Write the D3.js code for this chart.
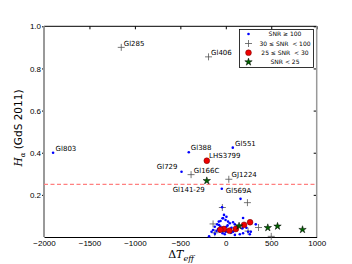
<!DOCTYPE html>
<html>
<head>
<meta charset="utf-8">
<script src="https://cdn.jsdelivr.net/npm/d3@7"></script>
<style>
  body { margin: 0; background: #fff; }
  svg { display: block; font-family: "DejaVu Sans", sans-serif; }
</style>
</head>
<body>
<div id="chart"></div>
<script>
// Halpha vs Delta Teff

// SNR >= 100 (blue dots)
var blueX = [-1900, -407, 77, -487, -44, 162, -41, 190, 330, 275,
  -30, -3, -58, 25, 44, 80, 99, -74, -121, -85, -140, -102, -47, -11, 7,
  63, 118, -157, -66, -36, 0, 36, 80, 124, 183, 227, 245, 264, 154, 190,
  -11, -184, -77, -36, 7, -20, -95, -60, 20, 60, -120, 100];
var blueY = [0.40, 0.402, 0.424, 0.31, 0.229, 0.181, 0.141, 0.09, 0.06, 0.025,
  0.089, 0.081, 0.076, 0.073, 0.065, 0.070, 0.060, 0.057, 0.049, 0.038, 0.033, 0.029, 0.041, 0.044, 0.049,
  0.044, 0.049, 0.025, 0.025, 0.018, 0.025, 0.029, 0.025, 0.033, 0.041, 0.044, 0.025, 0.013, 0.013, 0.018,
  0.013, 0.003, 0.073, 0.089, 0.096, 0.105, 0.060, 0.050, 0.055, 0.020, 0.015, 0.010];

// 30 <= SNR < 100 (plus)
var plusX = [-1150, -190, -382, 33, 238, -38, 360, 245, -140, -121, 500, -20, 50];
var plusY = [0.90, 0.855, 0.296, 0.274, 0.163, 0.140, 0.045, 0.028, 0.062, 0.020, 0.003, 0.035, 0.030];

// 25 <= SNR < 30 (red circles)
var redX = [-209, 267, 201, 110, -22, -60, 40];
var redY = [0.362, 0.070, 0.058, 0.038, 0.038, 0.035, 0.030];

// SNR < 25 (green stars)
var starX = [-209, 146, 462, 569, 844];
var starY = [0.267, 0.052, 0.044, 0.051, 0.035];

// star names
var labelNames = ["Gl285", "Gl406", "Gl803", "Gl388", "Gl551", "LHS3799", "Gl729", "Gl166C", "Gl141-29", "GJ1224", "Gl569A"];
var labelX = [-1150, -190, -1900, -407, 77, -209, -487, -382, -209, 33, -44];
var labelY = [0.90, 0.855, 0.40, 0.402, 0.424, 0.362, 0.31, 0.296, 0.267, 0.274, 0.229];

var xTicks = [-2000, -1500, -1000, -500, 0, 500, 1000];
var yTicks = [0.2, 0.4, 0.6, 0.8, 1.0];
var legendLabels = ["SNR \u2265 100", "30 \u2264 SNR  < 100", "25 \u2264 SNR  < 30", "SNR < 25"];

var width = 352, height = 264;
var pLeft = 44, pRight = 316.7, pTop = 26.3, pBottom = 237;

var svg = d3.select("#chart").append("svg")
    .attr("width", width)
    .attr("height", height);

var x = d3.scaleLinear().domain([-2000, 1000]).range([pLeft, pRight]);
var y = d3.scaleLinear().domain([0, 1]).range([pBottom, pTop]);

// axes
svg.append("g")
    .attr("transform", "translate(0," + pBottom + ")")
    .call(d3.axisBottom(x).tickValues(xTicks).tickSize(0).tickPadding(3).tickFormat(d3.format("d")))
    .call(function(g) {
        g.select(".domain").attr("stroke", "#000").attr("stroke-width", 1);
        g.selectAll("text").style("font-size", "8px").attr("fill", "#000");
    });

svg.append("g")
    .attr("transform", "translate(" + pLeft + ",0)")
    .call(d3.axisLeft(y).tickValues(yTicks).tickSize(2).tickPadding(1).tickFormat(d3.format(".1f")))
    .call(function(g) {
        g.select(".domain").remove();
        g.selectAll("text").style("font-size", "8px").attr("fill", "#000");
    });

// top ticks (inward)
svg.append("g")
    .attr("transform", "translate(0," + pTop + ")")
    .call(d3.axisBottom(x).tickValues(xTicks).tickSize(3).tickFormat(""))
    .call(function(g) { g.select(".domain").remove(); });

// right ticks (inward)
svg.append("g")
    .attr("transform", "translate(" + pRight + ",0)")
    .call(d3.axisLeft(y).tickValues(yTicks).tickSize(3).tickFormat(""))
    .call(function(g) { g.select(".domain").remove(); });

// spines
svg.append("line").attr("x1", pLeft).attr("x2", pRight).attr("y1", pTop).attr("y2", pTop)
    .attr("stroke", "#000").attr("stroke-width", 1);
svg.append("line").attr("x1", pLeft).attr("x2", pLeft).attr("y1", pTop).attr("y2", pBottom)
    .attr("stroke", "#999").attr("stroke-width", 2);
svg.append("line").attr("x1", pRight).attr("x2", pRight).attr("y1", pTop).attr("y2", pBottom)
    .attr("stroke", "#999").attr("stroke-width", 1.5);

// threshold
svg.append("line")
    .attr("x1", x(-2000)).attr("x2", x(1000))
    .attr("y1", y(0.25)).attr("y2", y(0.25))
    .attr("stroke", "#ff8080")
    .attr("stroke-width", 1.2)
    .attr("stroke-dasharray", "4,2.5");

var plusPath = "M-3.5,0H3.5M0,-3.5V3.5";
var star = d3.symbol().type(d3.symbolStar).size(17);

// plus markers
svg.selectAll("myplus")
    .data(d3.range(plusX.length))
    .enter().append("path")
        .attr("d", plusPath)
        .attr("transform", function(i) { return "translate(" + x(plusX[i]) + "," + y(plusY[i]) + ")"; })
        .attr("stroke", "#555")
        .attr("stroke-width", 0.8)
        .attr("fill", "none");

// blue dots
svg.selectAll("mydot")
    .data(d3.range(blueX.length))
    .enter().append("circle")
        .attr("cx", function(i) { return x(blueX[i]); })
        .attr("cy", function(i) { return y(blueY[i]); })
        .attr("r", 1.3)
        .attr("fill", "#0000ff");

// red circles
svg.selectAll("myred")
    .data(d3.range(redX.length))
    .enter().append("circle")
        .attr("cx", function(i) { return x(redX[i]); })
        .attr("cy", function(i) { return y(redY[i]); })
        .attr("r", 2.9)
        .attr("fill", "#ee0000")
        .attr("stroke", "#600")
        .attr("stroke-width", 0.5);

// green stars
svg.selectAll("mystar")
    .data(d3.range(starX.length))
    .enter().append("path")
        .attr("d", star)
        .attr("transform", function(i) { return "translate(" + x(starX[i]) + "," + y(starY[i]) + ")"; })
        .attr("fill", "#006400")
        .attr("stroke", "#000")
        .attr("stroke-width", 0.5);

// name labels; offsets so text sits as in the figure
var labelOffset = {
    "Gl285": [2.5, -1.5, "start"], "Gl406": [2.5, -2, "start"], "Gl803": [2.5, -2, "start"],
    "Gl388": [2, -2, "start"], "Gl551": [2.3, -1.7, "start"], "LHS3799": [2.3, -2.7, "start"],
    "Gl729": [-4, -2.7, "end"], "Gl166C": [2.7, -2, "start"], "Gl141-29": [-2, 10.8, "end"],
    "GJ1224": [2.7, -1.8, "start"], "Gl569A": [4, 4.5, "start"]
};
svg.selectAll("mylabel")
    .data(d3.range(labelNames.length))
    .enter().append("text")
        .attr("x", function(i) { return x(labelX[i]) + labelOffset[labelNames[i]][0]; })
        .attr("y", function(i) { return y(labelY[i]) + labelOffset[labelNames[i]][1]; })
        .attr("text-anchor", function(i) { return labelOffset[labelNames[i]][2]; })
        .style("font-size", "7px")
        .text(function(i) { return labelNames[i]; });

// legend
var legendG = svg.append("g").attr("transform", "translate(239.5,29.5)");
legendG.append("rect")
    .attr("width", 74).attr("height", 38)
    .attr("fill", "#fff").attr("stroke", "#000").attr("stroke-width", 0.8);
var rowY = [4.5, 14, 23.2, 32.5];
legendG.append("circle").attr("cx", 9).attr("cy", rowY[0]).attr("r", 1.3).attr("fill", "#0000ff");
legendG.append("path").attr("d", plusPath).attr("transform", "translate(9," + rowY[1] + ")")
    .attr("stroke", "#555").attr("stroke-width", 0.8);
legendG.append("circle").attr("cx", 9).attr("cy", rowY[2]).attr("r", 2.9)
    .attr("fill", "#ee0000").attr("stroke", "#600").attr("stroke-width", 0.5);
legendG.append("path").attr("d", star).attr("transform", "translate(9," + rowY[3] + ")")
    .attr("fill", "#006400").attr("stroke", "#000").attr("stroke-width", 0.5);
legendG.selectAll("mylegtext")
    .data(legendLabels)
    .enter().append("text")
        .attr("x", 45.5)
        .attr("y", function(d, i) { return rowY[i] + 2.2; })
        .attr("text-anchor", "middle")
        .style("font-size", "6px")
        .style("white-space", "pre")
        .text(function(d) { return d; });

// axis titles
var ylab = svg.append("text")
    .attr("transform", "translate(22,128)rotate(-90)")
    .attr("text-anchor", "middle")
    .style("font-size", "10.5px");
ylab.append("tspan").text("H").style("font-family", "DejaVu Serif").style("font-style", "italic");
ylab.append("tspan").text("\u03b1").attr("dy", 2.5).style("font-size", "7px")
    .style("font-family", "DejaVu Serif").style("font-style", "italic");
ylab.append("tspan").text(" (GdS 2011)").attr("dy", -2.5);

var xlab = svg.append("text")
    .attr("x", 181).attr("y", 258)
    .attr("text-anchor", "middle")
    .style("font-size", "11px")
    .style("font-family", "DejaVu Serif");
xlab.append("tspan").text("\u0394");
xlab.append("tspan").text("T").style("font-style", "italic");
xlab.append("tspan").text("eff").attr("dy", 2.5).style("font-size", "8px").style("font-style", "italic");
</script>
</body>
</html>
